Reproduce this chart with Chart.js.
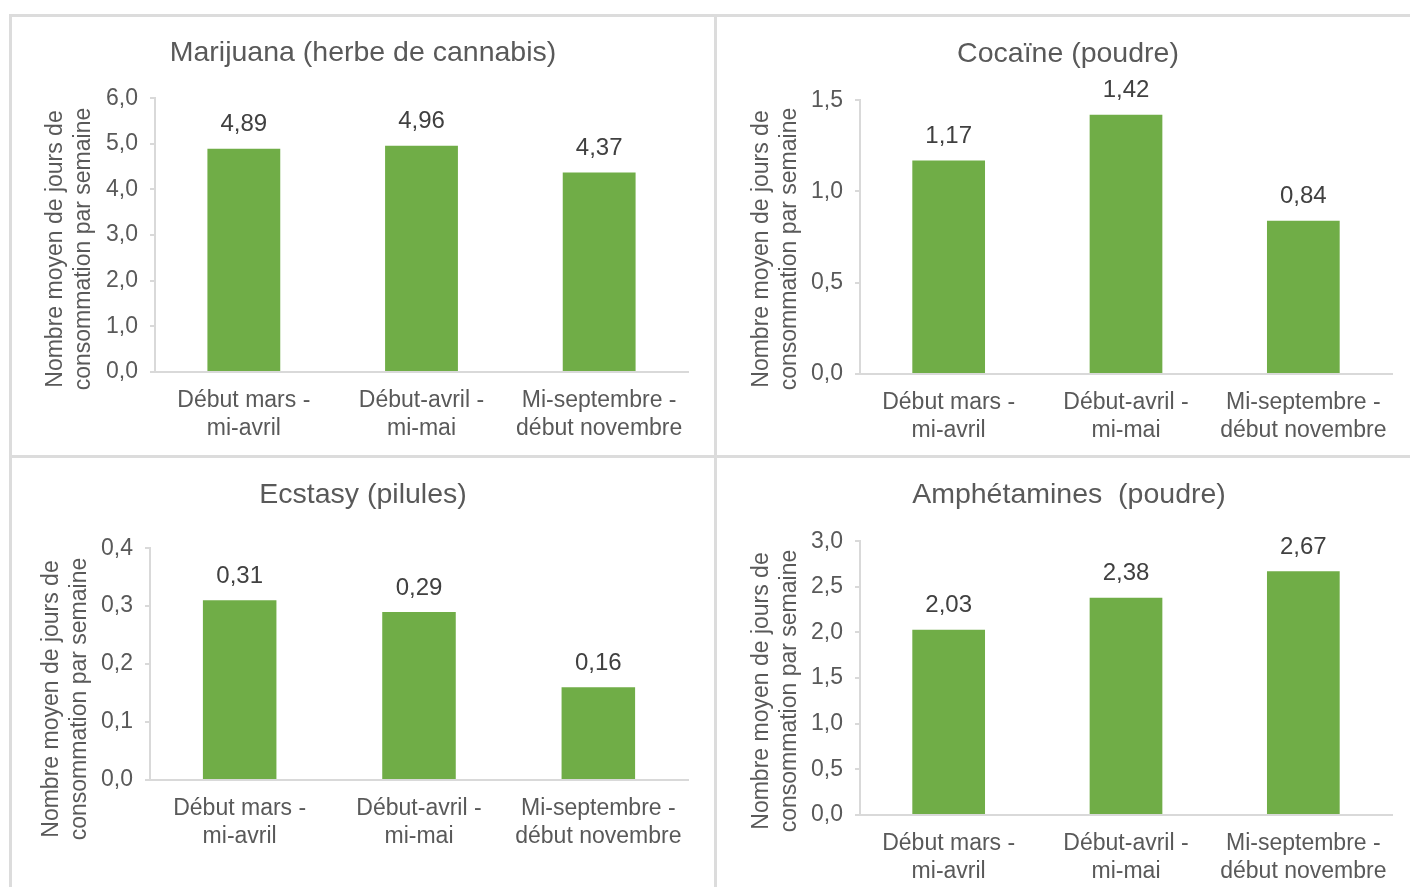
<!DOCTYPE html>
<html>
<head>
<meta charset="utf-8">
<script src="https://cdn.jsdelivr.net/npm/chart.js@4.4.0/dist/chart.umd.min.js"></script>
<style>
  html, body { margin: 0; padding: 0; background: #fff; width: 1410px; height: 887px; overflow: hidden; }
  .rule { position: absolute; background: #dcdcdc; }
  .panel { position: absolute; }
</style>
</head>
<body>
<div class="rule" style="left:9px;top:14px;width:1401px;height:3px"></div>
<div class="rule" style="left:9px;top:455px;width:1401px;height:3px"></div>
<div class="rule" style="left:9px;top:14px;width:3px;height:873px"></div>
<div class="rule" style="left:714px;top:14px;width:3px;height:873px"></div>

<div class="panel" style="left:12px;top:17px;width:702px;height:438px"><canvas id="c1"></canvas></div>
<div class="panel" style="left:717px;top:17px;width:693px;height:438px"><canvas id="c2"></canvas></div>
<div class="panel" style="left:12px;top:458px;width:702px;height:429px"><canvas id="c3"></canvas></div>
<div class="panel" style="left:717px;top:458px;width:693px;height:429px"><canvas id="c4"></canvas></div>

<script>
// Survey periods (x categories)
const periodes = [
  ["Début mars -", "mi-avril"],
  ["Début-avril -", "mi-mai"],
  ["Mi-septembre -", "début novembre"]
];

// Mean number of days of use per week, by substance
const marijuana    = [4.89, 4.96, 4.37];
const cocaine      = [1.17, 1.42, 0.84];
const ecstasy      = [0.31, 0.29, 0.16];
const amphetamines = [2.03, 2.38, 2.67];

// Panel titles
const titres = [
  "Marijuana (herbe de cannabis)",
  "Cocaïne (poudre)",
  "Ecstasy (pilules)",
  "Amphétamines  (poudre)"
];

// Value axis ranges: max and step
const axeMax = [6, 1.5, 0.4, 3];
const axePas = [1, 0.5, 0.1, 0.5];

const legendeAxe = ["Nombre moyen de jours de", "consommation par semaine"];

const GRIS = '#595959';
const GRIS_FONCE = '#404040';
const VERT = '#70ad47';
const TRAIT = '#d9d9d9';

Chart.defaults.font.family = "'Liberation Sans', Arial, sans-serif";
Chart.defaults.color = GRIS;

const virgule = (v, d) => v.toFixed(d).replace('.', ',');

// Writes each bar's value just above it
const etiquettesValeurs = {
  id: 'etiquettesValeurs',
  afterDatasetsDraw(chart, args, opts) {
    const ctx = chart.ctx;
    ctx.save();
    ctx.font = `${opts.size}px ${Chart.defaults.font.family}`;
    ctx.fillStyle = GRIS_FONCE;
    ctx.textAlign = 'center';
    ctx.textBaseline = 'middle';
    chart.data.datasets.forEach((ds, i) => {
      chart.getDatasetMeta(i).data.forEach((bar, j) => {
        ctx.fillText(virgule(ds.data[j], 2), bar.x, bar.y - opts.offset);
      });
    });
    ctx.restore();
  }
};

// Two-line rotated caption for the value axis
const legendeVerticale = {
  id: 'legendeVerticale',
  afterDraw(chart, args, opts) {
    const ctx = chart.ctx;
    ctx.save();
    ctx.font = `${opts.size}px ${Chart.defaults.font.family}`;
    ctx.fillStyle = GRIS;
    ctx.textAlign = 'center';
    ctx.textBaseline = 'middle';
    ctx.translate(opts.x, opts.y);
    ctx.rotate(-Math.PI / 2);
    const n = opts.lines.length;
    opts.lines.forEach((t, k) => {
      ctx.fillText(t, 0, (k - (n - 1) / 2) * opts.lineGap);
    });
    ctx.restore();
  }
};

function graphique(id, valeurs, idx, g) {
  new Chart(document.getElementById(id), {
    type: 'bar',
    data: {
      labels: periodes,
      datasets: [{
        data: valeurs,
        backgroundColor: VERT,
        borderWidth: 0,
        categoryPercentage: 1,
        barPercentage: 0.41
      }]
    },
    options: {
      responsive: true,
      maintainAspectRatio: false,
      animation: false,
      layout: { padding: { left: g.left, right: g.right, top: 0, bottom: 0 } },
      plugins: {
        legend: { display: false },
        tooltip: { enabled: false },
        title: {
          display: true,
          text: titres[idx],
          color: GRIS,
          font: { size: 28.5, weight: 'normal', lineHeight: 1.2 },
          padding: { top: g.tTop, bottom: g.tBottom }
        },
        etiquettesValeurs: { size: 24, offset: 24 },
        legendeVerticale: { lines: legendeAxe, x: g.capX, y: g.capY, size: 23, lineGap: 28 }
      },
      scales: {
        x: {
          grid: { drawOnChartArea: false, drawTicks: false },
          border: { color: TRAIT, width: 2 },
          ticks: { color: GRIS, font: { size: 23, lineHeight: 1.2 }, padding: 15, maxRotation: 0, autoSkip: false },
          afterFit: s => { s.height = g.xH; }
        },
        y: {
          min: 0,
          max: axeMax[idx],
          grid: { drawOnChartArea: false, drawTicks: true, tickLength: 5, color: TRAIT, lineWidth: 2 },
          border: { color: TRAIT, width: 2 },
          ticks: {
            stepSize: axePas[idx],
            color: GRIS,
            font: { size: 23 },
            padding: 12,
            callback: v => virgule(v, 1)
          },
          afterFit: s => { s.width = g.yW; }
        }
      }
    },
    plugins: [etiquettesValeurs, legendeVerticale]
  });
}

graphique('c1', marijuana, 0,    { left: 26, right: 26, tTop: 19, tBottom: 28, xH: 83,  yW: 117, capX: 58, capY: 232 });
graphique('c2', cocaine, 1,      { left: 27, right: 18, tTop: 20, tBottom: 29, xH: 81,  yW: 116, capX: 59, capY: 232 });
graphique('c3', ecstasy, 2,      { left: 26, right: 26, tTop: 20, tBottom: 36, xH: 107, yW: 112, capX: 54, capY: 241 });
graphique('c4', amphetamines, 3, { left: 29, right: 18, tTop: 20, tBottom: 29, xH: 72,  yW: 114, capX: 59, capY: 233 });
</script>
</body>
</html>
